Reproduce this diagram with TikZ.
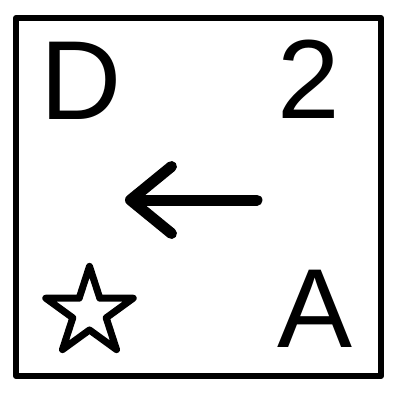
\documentclass[tikz,border=0pt]{standalone}
\usepackage{fontspec}
\setmainfont{Liberation Sans}
\usetikzlibrary{shapes.geometric,arrows.meta}

\tikzset{
  glyph/.style={inner sep=0pt, font=\fontsize{64pt}{64pt}\selectfont},
  frameline/.style={line width=0.12cm},
  heavy/.style={line width=0.22cm, line cap=round, line join=round}
}

\begin{document}
\begin{tikzpicture}[x=0.02cm, y=-0.02cm, line join=round]

\useasboundingbox (0,0) rectangle (400,407);

\draw[frameline] (16,18) rectangle (381,376);

\node (letterD) at (81,80.5) [glyph] {D};
\node (two) at (308.5,79) [glyph] {2};
\node (letterA) at (315,308.5) [glyph] {A};

\node (star) at (89.5,312.4) [star, star points=5, star point ratio=2.618,
  minimum size=1.84cm, inner sep=0pt, draw, line width=0.14cm] {};

\coordinate (tail) at (257,200);
\coordinate (tip) at (125,200);
\draw[heavy, -{Straight Barb[length=0.82cm, width=1.34cm, round]}] (tail) -- (tip);

\end{tikzpicture}
\end{document}
